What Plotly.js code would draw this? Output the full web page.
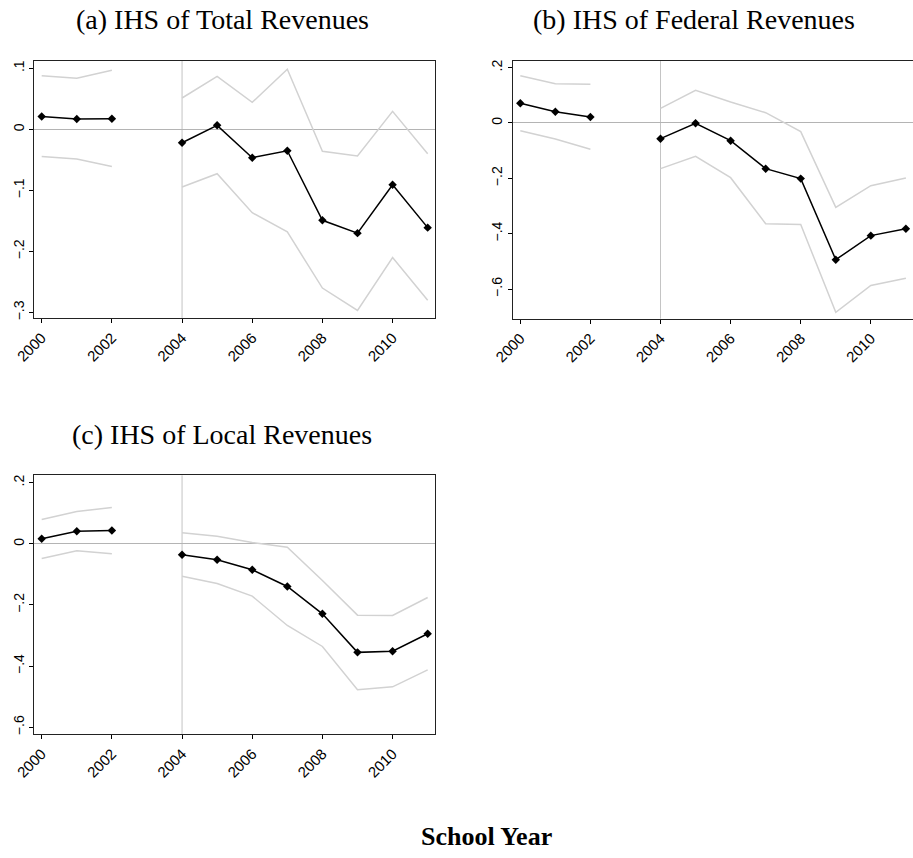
<!DOCTYPE html>
<html>
<head>
<meta charset="utf-8">
<script src="https://cdn.plot.ly/plotly-3.0.1.min.js"></script>
<style>
  html, body { margin: 0; padding: 0; background: #fff; }
  #chart { width: 913px; height: 858px; }
</style>
</head>
<body>
<div id="chart"></div>
<script>
// School years (2003 is the omitted reference year, left as a gap)
const years = [2000, 2001, 2002, 2003, 2004, 2005, 2006, 2007, 2008, 2009, 2010, 2011];

// (a) IHS of Total Revenues: estimate and 95% CI bounds
const totalEst = [0.021, 0.017, 0.0175, null, -0.022, 0.0066, -0.0464, -0.035, -0.149, -0.170, -0.0907, -0.161];
const totalHi  = [0.088, 0.0836, 0.0967, null, 0.0514, 0.0869, 0.0443, 0.0984, -0.036, -0.0437, 0.0295, -0.040];
const totalLo  = [-0.0443, -0.0486, -0.0607, null, -0.0945, -0.0727, -0.1366, -0.168, -0.260, -0.2967, -0.210, -0.280];

// (b) IHS of Federal Revenues
const fedEst = [0.071, 0.041, 0.0217, null, -0.0566, -0.001, -0.0639, -0.165, -0.201, -0.494, -0.407, -0.382];
const fedHi  = [0.171, 0.142, 0.140, null, 0.053, 0.118, 0.076, 0.0373, -0.031, -0.305, -0.2265, -0.199];
const fedLo  = [-0.0277, -0.0578, -0.095, null, -0.165, -0.1205, -0.1976, -0.364, -0.367, -0.684, -0.587, -0.561];

// (c) IHS of Local Revenues
const locEst = [0.0163, 0.0414, 0.0436, null, -0.036, -0.0523, -0.085, -0.1395, -0.229, -0.355, -0.351, -0.294];
const locHi  = [0.0796, 0.1057, 0.1188, null, 0.036, 0.025, 0.0044, -0.0109, -0.12, -0.2332, -0.2343, -0.1755];
const locLo  = [-0.048, -0.0229, -0.0327, null, -0.1057, -0.1297, -0.1711, -0.267, -0.3357, -0.477, -0.4676, -0.412];

// Tick labels
const xTickVals = [2000, 2002, 2004, 2006, 2008, 2010];
const xTickText = ['2000', '2002', '2004', '2006', '2008', '2010'];
const yTickValsA = [-0.3, -0.2, -0.1, 0, 0.1];
const yTickTextA = ['\u2212.3', '\u2212.2', '\u2212.1', '0', '.1'];
const yTickValsB = [-0.6, -0.4, -0.2, 0, 0.2];
const yTickTextB = ['\u2212.6', '\u2212.4', '\u2212.2', '0', '.2'];
const yTickValsC = [-0.6, -0.4, -0.2, 0, 0.2];
const yTickTextC = ['\u2212.6', '\u2212.4', '\u2212.2', '0', '.2'];

const panelTitles = ['(a) IHS of Total Revenues', '(b) IHS of Federal Revenues', '(c) IHS of Local Revenues'];
const xAxisTitle = 'School Year';

const ciColor = '#d2d2d2';
const estColor = '#000000';

function panelTraces(est, hi, lo, xa, ya) {
  const ci = (vals) => ({
    x: years, y: vals, xaxis: xa, yaxis: ya, type: 'scatter', mode: 'lines',
    line: { color: ciColor, width: 1.5 }, connectgaps: false, hoverinfo: 'skip', showlegend: false
  });
  return [
    ci(hi), ci(lo),
    {
      x: years, y: est, xaxis: xa, yaxis: ya, type: 'scatter', mode: 'lines+markers',
      line: { color: estColor, width: 1.5 },
      marker: { symbol: 'diamond', size: 6.5, color: estColor },
      connectgaps: false, showlegend: false
    }
  ];
}

const data = [
  ...panelTraces(totalEst, totalHi, totalLo, 'x', 'y'),
  ...panelTraces(fedEst, fedHi, fedLo, 'x2', 'y2'),
  ...panelTraces(locEst, locHi, locLo, 'x3', 'y3')
];

const xTickFont = { family: 'Liberation Sans, Arial, sans-serif', size: 15, color: '#000' };
const yTickFont = { family: 'Liberation Sans, Arial, sans-serif', size: 14, color: '#000' };

function xAxis(domain, anchor, range) {
  return {
    domain: domain, anchor: anchor, range: range,
    tickmode: 'array', tickvals: xTickVals, ticktext: xTickText, tickangle: -45,
    ticks: 'outside', ticklen: 4, tickwidth: 1, tickcolor: '#000',
    showgrid: false, zeroline: false,
    showline: true, mirror: true, linecolor: '#222', linewidth: 1.2,
    tickfont: xTickFont
  };
}
function yAxis(domain, anchor, range, vals, text) {
  return {
    domain: domain, anchor: anchor, range: range,
    tickmode: 'array', tickvals: vals, ticktext: text, tickangle: -90,
    ticks: 'outside', ticklen: 4, tickwidth: 1, tickcolor: '#000',
    showgrid: false, zeroline: true, zerolinecolor: '#b4b4b4', zerolinewidth: 1,
    showline: true, mirror: true, linecolor: '#222', linewidth: 1.2,
    tickfont: yTickFont
  };
}

const titleFont = { family: 'Liberation Serif, Times New Roman, serif', size: 28, color: '#000' };

const refLine = (xr, yr) => ({
  type: 'line', xref: xr, yref: yr + ' domain', x0: 2004, x1: 2004, y0: 0, y1: 1,
  line: { color: '#c4c4c4', width: 1 }, layer: 'below'
});

const layout = {
  width: 913, height: 858,
  margin: { l: 0, r: 0, t: 0, b: 0 },
  paper_bgcolor: '#fff', plot_bgcolor: '#fff',
  showlegend: false,
  xaxis: xAxis([0.0376, 0.4765], 'y', [1999.79, 2011.21]),
  yaxis: yAxis([0.6294, 0.9289], 'x', [-0.309, 0.112], yTickValsA, yTickTextA),
  xaxis2: xAxis([0.5622, 0.9995], 'y2', [1999.8, 2011.19]),
  yaxis2: yAxis([0.6286, 0.9289], 'x2', [-0.707, 0.224], yTickValsB, yTickTextB),
  xaxis3: xAxis([0.0376, 0.4765], 'y3', [1999.79, 2011.21]),
  yaxis3: yAxis([0.1445, 0.4460], 'x3', [-0.622, 0.224], yTickValsC, yTickTextC),
  shapes: [refLine('x', 'y'), refLine('x2', 'y2'), refLine('x3', 'y3')],
  annotations: [
    { text: panelTitles[0], xref: 'paper', yref: 'paper', x: 222 / 913, y: 1 - 20 / 858,
      xanchor: 'center', yanchor: 'middle', showarrow: false, font: titleFont },
    { text: panelTitles[1], xref: 'paper', yref: 'paper', x: 694 / 913, y: 1 - 20 / 858,
      xanchor: 'center', yanchor: 'middle', showarrow: false, font: titleFont },
    { text: panelTitles[2], xref: 'paper', yref: 'paper', x: 222 / 913, y: 1 - 434 / 858,
      xanchor: 'center', yanchor: 'middle', showarrow: false, font: titleFont },
    { text: '<b>' + xAxisTitle + '</b>', xref: 'paper', yref: 'paper', x: 486 / 913, y: 1 - 836 / 858,
      xanchor: 'center', yanchor: 'middle', showarrow: false,
      font: { family: 'Liberation Serif, Times New Roman, serif', size: 26, color: '#000' } }
  ]
};

Plotly.newPlot('chart', data, layout, { displayModeBar: false, staticPlot: true });
</script>
</body>
</html>
